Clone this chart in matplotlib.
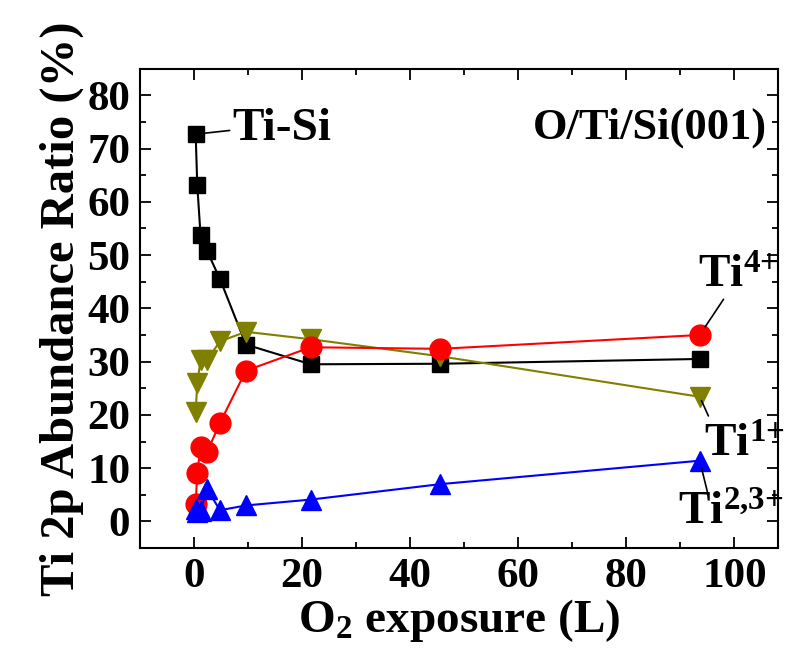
import numpy as np
import matplotlib
matplotlib.use('Agg')
import matplotlib.pyplot as plt

plt.rcParams['font.family'] = 'Liberation Serif'
plt.rcParams['font.weight'] = 'bold'
plt.rcParams['axes.labelweight'] = 'bold'
plt.rcParams['mathtext.fontset'] = 'custom'
plt.rcParams['mathtext.rm'] = 'Liberation Serif:bold'
plt.rcParams['mathtext.bf'] = 'Liberation Serif:bold'
plt.rcParams['mathtext.it'] = 'Liberation Serif:bold'

# O2 exposure (L)
exposure = np.array([0.3, 0.6, 1.2, 2.4, 4.8, 9.6, 21.6, 45.6, 93.6])

# abundance ratio (%)
ti_si = np.array([72.7, 63.1, 53.8, 50.8, 45.5, 33.2, 29.5, 29.6, 30.5])
ti_4 = np.array([3.3, 9.1, 13.9, 13.0, 18.5, 28.3, 32.7, 32.4, 35.0])
ti_1 = np.array([20.6, 25.9, 30.3, 30.3, 33.8, 35.6, 34.2, 31.0, 23.4])
ti_23 = np.array([2.3, 1.8, 1.9, 6.1, 2.1, 3.0, 4.1, 7.0, 11.4])

fig = plt.figure(figsize=(7.91, 6.54), dpi=100)
ax = fig.add_axes([0.177, 0.162, 0.806, 0.733])

ax.plot(exposure, ti_si, 's-', color='black', ms=12, lw=1.5)
ax.plot(exposure, ti_1, 'v-', color='#808000', ms=15, lw=1.5)
ax.plot(exposure, ti_4, 'o-', color='red', ms=15, lw=1.5)
ax.plot(exposure, ti_23, '^-', color='blue', ms=15, lw=1.5)

ax.set_xlim(-10, 108)
ax.set_ylim(-5, 85)
ax.set_xticks(np.arange(0, 101, 20))
ax.set_xticks(np.arange(-10, 108, 10), minor=True)
ax.set_yticks(np.arange(0, 81, 10))
ax.set_yticks(np.arange(-5, 85, 5), minor=True)
ax.tick_params(which='both', direction='in', top=True, right=True, width=1.3)
ax.tick_params(which='major', length=8, labelsize=31, pad=7)
ax.tick_params(which='minor', length=4)
for s in ax.spines.values():
    s.set_linewidth(1.5)

ax.set_xlabel(r'O$_2$ exposure (L)', fontsize=34, labelpad=1)
ax.set_ylabel('Ti 2p Abundance Ratio (%)', fontsize=35, labelpad=2)

ax.text(0.983, 0.877, 'O/Ti/Si(001)', transform=ax.transAxes, ha='right',
        va='center', fontsize=32)

# leader lines and labels
ax.annotate('', xy=(exposure[0], ti_si[0]), xytext=(6.6, 73.4),
            arrowprops=dict(arrowstyle='-', color='black', lw=1.2, shrinkA=0, shrinkB=7))
ax.text(7.0, 73.6, 'Ti-Si', ha='left', va='center', fontsize=34)

ax.annotate('', xy=(exposure[-1], ti_4[-1]), xytext=(98.0, 41.7),
            arrowprops=dict(arrowstyle='-', color='black', lw=1.2, shrinkA=0, shrinkB=7))
ax.text(93.2, 46.0, r'Ti$^{4{+}}$', ha='left', va='center', fontsize=34)

ax.annotate('', xy=(exposure[-1], ti_1[-1]), xytext=(95.2, 19.8),
            arrowprops=dict(arrowstyle='-', color='black', lw=1.2, shrinkA=0, shrinkB=3))
ax.text(94.4, 14.3, r'Ti$^{1{+}}$', ha='left', va='center', fontsize=34)

ax.annotate('', xy=(exposure[-1], ti_23[-1]), xytext=(95.0, 5.6),
            arrowprops=dict(arrowstyle='-', color='black', lw=1.2, shrinkA=0, shrinkB=5))
ax.text(89.5, 1.5, r'Ti$^{2{,}3{+}}$', ha='left', va='center', fontsize=34)

fig.savefig('out.png', dpi=100)
